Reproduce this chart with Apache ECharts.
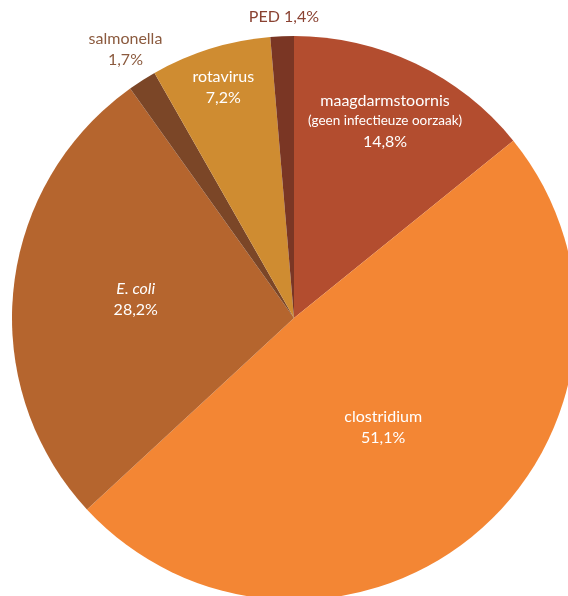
<!DOCTYPE html>
<html>
<head>
<meta charset="utf-8">
<script src="https://cdn.jsdelivr.net/npm/echarts@6/dist/echarts.min.js"></script>
<style>html,body{margin:0;padding:0;background:#fff;}#c{width:568px;height:596px;}</style>
</head>
<body>
<div id="c"></div>
<script>
var categories = ['maagdarmstoornis', 'clostridium', 'E. coli', 'salmonella', 'rotavirus', 'PED'];
var subtitles = ['(geen infectieuze oorzaak)', '', '', '', '', ''];
var values = [14.8, 51.1, 28.2, 1.7, 7.2, 1.4];
var valueLabels = ['14,8%', '51,1%', '28,2%', '1,7%', '7,2%', '1,4%'];

var colors = ['#b34d2f', '#f38634', '#b5652e', '#7b4627', '#cf8c31', '#7a3624'];
var labelOffsets = [[29, -67], [-5, 0], [-15, -4], [-91, -147], [-28, -93], [-4, -157]];
var outside = [false, false, false, true, false, true];
var outsideColors = ['', '', '', '#8b5a3e', '', '#8a4232'];

var data = categories.map(function (c, i) {
  return {
    name: c,
    value: values[i],
    itemStyle: { color: colors[i] },
    label: {
      position: 'inside',
      offset: labelOffsets[i],
      color: outside[i] ? outsideColors[i] : '#ffffff'
    }
  };
});

var chart = echarts.init(document.getElementById('c'));
chart.setOption({
  animation: false,
  series: [{
    type: 'pie',
    center: [294, 318],
    radius: [0, 282],
    startAngle: 90,
    clockwise: true,
    avoidLabelOverlap: false,
    labelLine: { show: false },
    itemStyle: { borderWidth: 0 },
    label: {
      fontFamily: 'Lato',
      fontSize: 16,
      lineHeight: 21,
      align: 'center',
      formatter: function (p) {
        var i = p.dataIndex;
        var nameStyle = categories[i] === 'E. coli' ? 'it' : 'n';
        var s = '{' + nameStyle + '|' + categories[i] + '}';
        if (i === 5) {
          return s + ' {n|' + valueLabels[i] + '}';
        }
        if (subtitles[i]) s += '\n{sub|' + subtitles[i] + '}';
        s += '\n{n|' + valueLabels[i] + '}';
        return s;
      },
      rich: {
        n: { fontFamily: 'Lato', fontSize: 16, lineHeight: 21 },
        it: { fontFamily: 'Lato', fontSize: 16, lineHeight: 21, fontStyle: 'italic' },
        sub: { fontFamily: 'Lato', fontSize: 13.5, lineHeight: 20 }
      }
    },
    data: data
  }]
});
</script>
</body>
</html>
